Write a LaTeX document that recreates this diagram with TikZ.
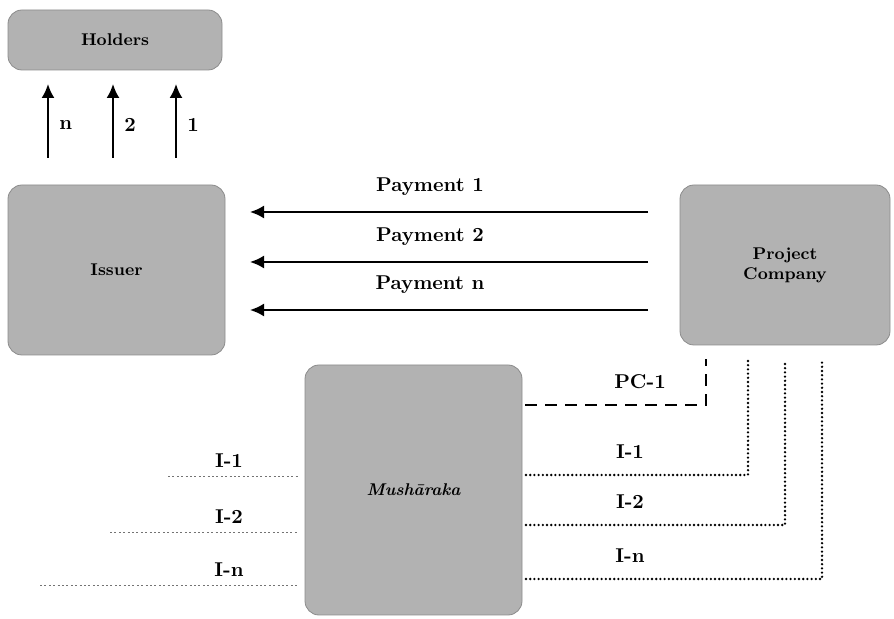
\documentclass[tikz,border=0pt]{standalone}
\usetikzlibrary{arrows.meta}
\begin{document}
\begin{tikzpicture}[x=0.5pt,y=-0.5pt,
  box/.style={fill=black!30, draw=black!45, line width=0.4pt, rounded corners=7pt, inner sep=0pt, align=center, font=\fontsize{8.5}{10}\selectfont\bfseries},
  lab/.style={font=\fontsize{10}{12}\selectfont\bfseries, inner sep=1pt},
  flow/.style={line width=1pt, -{Latex[length=7pt,width=6.5pt]}},
  pcline/.style={line width=1.3pt, dash pattern=on 6pt off 4pt},
  iline/.style={line width=1.3pt, line cap=round, dash pattern=on 0pt off 2.1pt},
  ext/.style={line width=0.5pt, black!55, dash pattern=on 1pt off 1.2pt}]
\useasboundingbox (0,0) rectangle (894,619);
\node[box, minimum width=107pt, minimum height=30pt] (holders) at (115,40) {Holders};
\node[box, minimum width=108.5pt, minimum height=85pt] (issuer) at (116.5,270) {Issuer};
\node[box, minimum width=105pt, minimum height=80pt] (project) at (785,265) {Project\\Company};
\node[box, minimum width=108.5pt, minimum height=125pt] (mush) at (413.5,490) {\itshape Mush\=araka};

% arrows to holders
\foreach \x/\t in {48/n,113/2,176/1}{
  \coordinate (s\t) at (\x,158);
  \coordinate (e\t) at (\x,84);
  \draw[flow] (s\t) -- (e\t);
  \node[lab, anchor=west] at (\x+9,125) {\t};
}

% payments
\foreach \y/\t/\n in {212/Payment 1/a,262/Payment 2/b,310/Payment n/c}{
  \coordinate (ps\n) at (648,\y);
  \coordinate (pe\n) at (250,\y);
  \draw[flow] (ps\n) -- (pe\n);
  \node[lab] at (430,\y-25) {\t};
}

% PC-1
\coordinate (pc0) at (525,405);
\coordinate (pc1) at (706,405);
\coordinate (pc2) at (706,359);
\draw[pcline] (pc0) -- (pc1) -- (pc2);
\node[lab] at (640,382) {PC-1};

% I lines right
\foreach \y/\x/\t/\n in {475/748/I-1/a,525/785/I-2/b,579/822/I-n/c}{
  \coordinate (ia\n) at (526,\y);
  \coordinate (ib\n) at (\x,\y);
  \coordinate (ic\n) at (\x,360);
  \draw[iline] (ia\n) -- (ib\n) -- (ic\n);
  \node[lab] at (630,\y-23) {\t};
}

% I lines left
\foreach \y/\x/\t/\n in {477/168/I-1/a,533/110/I-2/b,586/40/I-n/c}{
  \coordinate (la\n) at (\x,\y);
  \coordinate (lb\n) at (298,\y);
  \draw[ext] (la\n) -- (lb\n);
  \node[lab] at (229,\y-16) {\t};
}
\end{tikzpicture}
\end{document}
